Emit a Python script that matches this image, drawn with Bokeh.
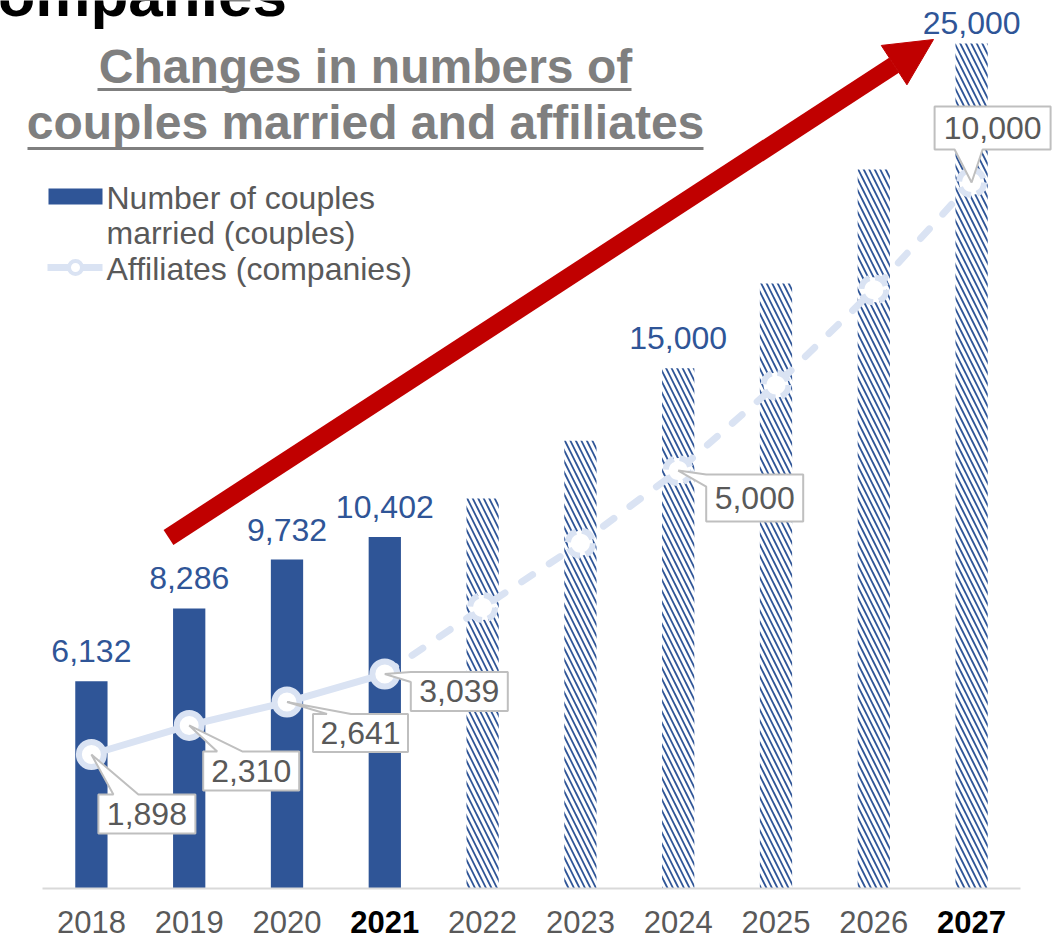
from bokeh.plotting import figure
from bokeh.models import ColumnDataSource, Range1d, Label, Arrow, NormalHead
from bokeh.core.properties import value, field
from bokeh.embed import file_html
from bokeh.resources import INLINE

# ---------------- data ----------------
years = ["2018", "2019", "2020", "2021", "2022", "2023", "2024", "2025", "2026", "2027"]
couples = [6132, 8286, 9732, 10402, 11540, 13250, 15390, 17900, 21270, 25000]
couple_labels = ["6,132", "8,286", "9,732", "10,402", "", "", "15,000", "", "", "25,000"]
affiliates = [1898, 2310, 2641, 3039, 3980, 4890, 5920, 7130, 8480, 10000]
affiliate_labels = ["1,898", "2,310", "2,641", "3,039", "", "", "5,000", "", "", "10,000"]
n_actual = 4          # 2018-2021 results, 2022-2027 targets
bold_years = ["2021", "2027"]

title_text = "ompanies"
subtitle_lines = ["Changes in numbers of", "couples married and affiliates"]
legend_labels = ["Number of couples", "married (couples)", "Affiliates (companies)"]

# ---------------- styles / layout ----------------
BLUE = "#2F5597"
LIGHT = "#DAE3F3"
RED = "#C00000"
GREY_TXT = "#595959"
SUB = "#7F7F7F"
FONT = "Liberation Sans"

W, H = 1064, 940
AXIS_LEFT, AXIS_Y = 42, 888             # page px of the category axis
PX_X = 97.8                             # px per category
PX_Y1 = 0.0338                          # px per couple
PX_Y2 = 0.0706                          # px per affiliate


def dx(px):
    return (px - AXIS_LEFT) / PX_X - 0.5


def dy(py):
    return (AXIS_Y - py) / PX_Y1


p = figure(width=W, height=H, x_range=Range1d(dx(0), dx(W)), y_range=Range1d(dy(H), dy(0)),
           output_backend="svg", toolbar_location=None,
           min_border_left=0, min_border_right=0, min_border_top=0, min_border_bottom=0)
p.extra_y_ranges = {"aff": Range1d((AXIS_Y - H) / PX_Y2, AXIS_Y / PX_Y2)}
p.xaxis.visible = False
p.yaxis.visible = False
p.grid.visible = False
p.outline_line_color = None

xs = list(range(len(years)))

# ---------------- bars ----------------
p.vbar(x=xs[:n_actual], top=couples[:n_actual], width=0.33,
       fill_color=BLUE, line_color=None)
p.vbar(x=xs[n_actual:], top=couples[n_actual:], width=0.33,
       fill_color="white", line_color=None,
       hatch_pattern="left_diagonal_line", hatch_color=BLUE,
       hatch_scale=11, hatch_weight=1.8)

# category axis line
p.segment(x0=[-0.5], x1=[len(years) - 0.5], y0=[0], y1=[0],
          line_color="#D9D9D9", line_width=2)

# bar value labels
gap = [-30, -30, -30, -30, 0, 0, -30, 0, 0, -21]
p.text(x=xs, y=couples, text=couple_labels, y_offset=gap,
       text_align="center", text_baseline="middle",
       text_color=BLUE, text_font_size="32px", text_font=value(FONT))

# year labels
ysrc = ColumnDataSource(dict(
    x=xs, y=[dy(921)] * len(xs), text=years,
    color=["#000000" if y in bold_years else GREY_TXT for y in years],
    style=["bold" if y in bold_years else "normal" for y in years]))
p.text(x="x", y="y", text="text", source=ysrc, text_align="center",
       text_baseline="middle", text_color=field("color"),
       text_font_style=field("style"), text_font_size="31px", text_font=value(FONT))

# ---------------- affiliates line ----------------
p.line(xs[:n_actual], affiliates[:n_actual], y_range_name="aff",
       line_color=LIGHT, line_width=7, line_cap="round")
p.line(xs[n_actual - 1:], affiliates[n_actual - 1:], y_range_name="aff",
       line_color=LIGHT, line_width=7, line_cap="round", line_dash="13 20")
p.scatter(xs[:n_actual], affiliates[:n_actual], y_range_name="aff", size=25,
          fill_color="white", line_color=LIGHT, line_width=6)
p.scatter(xs[n_actual:], affiliates[n_actual:], y_range_name="aff", size=25,
          fill_color="white", line_color=LIGHT, line_width=6, line_dash="14 6")

# ---------------- callouts ----------------
# (left, top, right, bottom, wedge edge, wedge a, wedge b) in px relative to the point (y down)
callout_geom = {
    0: (7, 40, 104, 79, "top", 22, 47),
    1: (14, 26, 110, 65, "top", 28, 53),
    2: (26, 12, 121, 50, "top", 40, 64),
    3: (26, -2, 123, 37, "left", -2, 8),
    6: (28, 4, 125, 51, "left", 4, 16),
    9: (-37, -76, 79, -33, "bottom", -17, 11),
}
cxs, cys, tx, ty, tt = [], [], [], [], []
for i, lab in enumerate(affiliate_labels):
    if not lab:
        continue
    L, T, R, B, edge, a, b = callout_geom[i]
    if edge == "top":
        pts = [(L, T), (a, T), (0, 0), (b, T), (R, T), (R, B), (L, B)]
    elif edge == "left":
        pts = [(L, T), (R, T), (R, B), (L, B), (L, b), (0, 0), (L, a)]
    else:
        pts = [(L, T), (R, T), (R, B), (b, B), (0, 0), (a, B), (L, B)]
    cxs.append([i + px / PX_X for px, _ in pts])
    cys.append([affiliates[i] - py / PX_Y2 for _, py in pts])
    tx.append(i + (L + R) / 2 / PX_X)
    ty.append(affiliates[i] - (T + B) / 2 / PX_Y2)
    tt.append(lab)
p.patches(cxs, cys, y_range_name="aff", fill_color="white",
          line_color="#BFBFBF", line_width=2)
p.text(x=tx, y=ty, text=tt, y_range_name="aff", text_align="center",
       text_baseline="middle", text_color=GREY_TXT, text_font_size="32px",
       text_font=value(FONT))

# ---------------- legend ----------------
p.quad(left=dx(48), right=dx(102), top=dy(188), bottom=dy(204),
       fill_color=BLUE, line_color=None)
p.line([dx(47), dx(102)], [dy(267), dy(267)], line_color=LIGHT, line_width=7)
p.scatter([dx(75)], [dy(267)], size=13, fill_color="white",
          line_color=LIGHT, line_width=4)
for txt, yy in zip(legend_labels, [197, 232, 268]):
    p.add_layout(Label(x=dx(106), y=dy(yy), text=txt, text_align="left",
                       text_baseline="middle", text_color=GREY_TXT,
                       text_font_size="32px", text_font=FONT))

# ---------------- titles ----------------
p.add_layout(Label(x=dx(-3), y=dy(-6), text=title_text, text_align="left",
                   text_baseline="middle", text_color="#000000",
                   text_font_size="62px", text_font_style="bold", text_font=FONT))
for txt, yy in zip(subtitle_lines, [66, 122]):
    p.add_layout(Label(x=dx(365), y=dy(yy), text=txt, text_align="center",
                       text_baseline="middle", text_color=SUB,
                       text_font_size="48px", text_font_style="bold", text_font=FONT))
p.segment(x0=[dx(97), dx(27)], x1=[dx(631), dx(703)],
          y0=[dy(89), dy(148)], y1=[dy(89), dy(148)],
          line_color=SUB, line_width=3)

# ---------------- red arrow ----------------
p.add_layout(Arrow(end=NormalHead(size=47, fill_color=RED, line_color=RED, line_width=1),
                   x_start=dx(168), y_start=dy(537), x_end=dx(933), y_end=dy(39),
                   line_color=RED, line_width=18))

open("out.html", "w").write(file_html(p, INLINE))
